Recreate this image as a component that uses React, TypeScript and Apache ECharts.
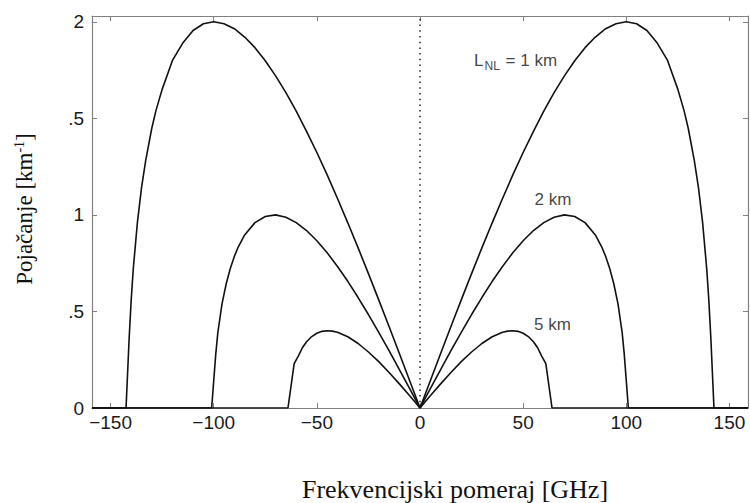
import React, { useEffect, useRef } from "react";
import * as echarts from "echarts";

// Gain curves: [frequency shift GHz, gain km^-1]
const curve1km: [number, number][] = [
  [-159, 0], [-142.5, 0], [-141, 0.36], [-140, 0.56], [-139, 0.72], [-137, 0.96], [-135, 1.14],
  [-133, 1.28], [-130, 1.45], [-128, 1.54], [-125, 1.65], [-120, 1.8], [-115, 1.89], [-110, 1.955],
  [-105, 1.99], [-100, 2.0], [-95, 1.99], [-90, 1.964], [-85, 1.921], [-80, 1.866], [-75, 1.798],
  [-70, 1.72], [-65, 1.633], [-60, 1.537], [-55, 1.433], [-50, 1.323], [-45, 1.207], [-40, 1.085],
  [-35, 0.959], [-30, 0.829], [-25, 0.696], [-20, 0.56], [-15, 0.422], [-10, 0.282], [-5, 0.141],
  [0, 0],
  [5, 0.141], [10, 0.282], [15, 0.422], [20, 0.56], [25, 0.696], [30, 0.829], [35, 0.959],
  [40, 1.085], [45, 1.207], [50, 1.323], [55, 1.433], [60, 1.537], [65, 1.633], [70, 1.72],
  [75, 1.798], [80, 1.866], [85, 1.921], [90, 1.964], [95, 1.99], [100, 2.0], [105, 1.99],
  [110, 1.955], [115, 1.89], [120, 1.8], [125, 1.65], [128, 1.54], [130, 1.45], [133, 1.28],
  [135, 1.14], [137, 0.96], [139, 0.72], [140, 0.56], [141, 0.36], [142.5, 0], [159, 0],
];
const curve2km: [number, number][] = [
  [-159, 0], [-101, 0], [-99, 0.28], [-98, 0.39], [-96, 0.538], [-94, 0.641], [-92, 0.721],
  [-90, 0.785], [-88, 0.836], [-85, 0.896], [-80, 0.96], [-75, 0.992], [-70, 1.0], [-65, 0.988],
  [-60, 0.96], [-55, 0.919], [-50, 0.866], [-45, 0.804], [-40, 0.733], [-35, 0.656], [-30, 0.572],
  [-25, 0.484], [-20, 0.392], [-15, 0.297], [-10, 0.199], [-5, 0.1], [0, 0],
  [5, 0.1], [10, 0.199], [15, 0.297], [20, 0.392], [25, 0.484], [30, 0.572], [35, 0.656],
  [40, 0.733], [45, 0.804], [50, 0.866], [55, 0.919], [60, 0.96], [65, 0.988], [70, 1.0],
  [75, 0.992], [80, 0.96], [85, 0.896], [88, 0.836], [90, 0.785], [92, 0.721], [94, 0.641],
  [96, 0.538], [98, 0.39], [99, 0.28], [101, 0], [159, 0],
];
const curve5km: [number, number][] = [
  [-159, 0], [-64, 0], [-61, 0.23], [-59, 0.269], [-57, 0.312], [-55, 0.343], [-52.5, 0.37],
  [-50, 0.387], [-47.5, 0.397], [-45, 0.4], [-42.5, 0.398], [-40, 0.392], [-35, 0.369],
  [-30, 0.334], [-25, 0.29], [-20, 0.24], [-15, 0.184], [-10, 0.125], [-5, 0.063], [0, 0],
  [5, 0.063], [10, 0.125], [15, 0.184], [20, 0.24], [25, 0.29], [30, 0.334], [35, 0.369],
  [40, 0.392], [42.5, 0.398], [45, 0.4], [47.5, 0.397], [50, 0.387], [52.5, 0.37], [55, 0.343],
  [57, 0.312], [59, 0.269], [61, 0.23], [64, 0], [159, 0],
];
const zeroLine: [number, number][] = [[0, 0], [0, 2.03]];

const xTicks = [-150, -100, -50, 0, 50, 100, 150];
const yTicks = [0, 0.5, 1, 1.5, 2];
const yTickLabels = ["0", ".5", "1", ".5", "2"];

const annotations: { pos: [number, number]; text: string }[] = [
  { pos: [26.2, 1.8], text: "{l|L}{s|NL}{l| = 1 km}" },
  { pos: [55.5, 1.078], text: "{l|2 km}" },
  { pos: [55.3, 0.435], text: "{l|5 km}" },
];

const AXIS_GRAY = "#808080";
const LINE = "#111111";
const SANS = "'Liberation Sans', Arial, sans-serif";
const SERIF = "'Liberation Serif', 'Times New Roman', serif";

export default function App() {
  const ref = useRef<HTMLDivElement>(null);
  useEffect(() => {
    if (!ref.current) return;
    const chart = echarts.init(ref.current, null, { renderer: "svg" });
    const tickStyle = { show: true, inside: true, length: 5, lineStyle: { color: AXIS_GRAY, width: 1 } };
    const curveSeries = (data: [number, number][]) => ({
      type: "line",
      data,
      showSymbol: false,
      symbol: "none",
      lineStyle: { color: LINE, width: 1.6 },
      z: 3,
    });
    chart.setOption({
      animation: false,
      backgroundColor: "#ffffff",
      grid: { left: 92, right: 2, top: 16, bottom: 95, show: false },
      xAxis: [
        {
          type: "value",
          min: -159,
          max: 159,
          position: "bottom",
          axisLine: { show: true, onZero: false, lineStyle: { color: AXIS_GRAY, width: 1.2 } },
          axisTick: { ...tickStyle, customValues: xTicks },
          axisLabel: {
            customValues: xTicks,
            formatter: (v: number) => String(v).replace("-", "\u2212"),
            color: "#1a1a1a",
            fontFamily: SANS,
            fontSize: 19,
            margin: 5,
          },
          splitLine: { show: false },
        },
        {
          type: "value",
          min: -159,
          max: 159,
          position: "top",
          axisLine: { show: true, onZero: false, lineStyle: { color: AXIS_GRAY, width: 1.2 } },
          axisTick: { ...tickStyle, customValues: xTicks },
          axisLabel: { show: false },
          splitLine: { show: false },
        },
      ],
      yAxis: [
        {
          type: "value",
          min: 0,
          max: 2.03,
          position: "left",
          axisLine: { show: true, onZero: false, lineStyle: { color: AXIS_GRAY, width: 1.2 } },
          axisTick: { ...tickStyle, customValues: yTicks },
          axisLabel: {
            customValues: yTicks,
            formatter: (v: number) => yTickLabels[yTicks.indexOf(v)] ?? "",
            color: "#1a1a1a",
            fontFamily: SANS,
            fontSize: 19,
            margin: 8,
          },
          splitLine: { show: false },
        },
        {
          type: "value",
          min: 0,
          max: 2.03,
          position: "right",
          axisLine: { show: true, onZero: false, lineStyle: { color: AXIS_GRAY, width: 1.2 } },
          axisTick: { ...tickStyle, customValues: yTicks },
          axisLabel: { show: false },
          splitLine: { show: false },
        },
      ],
      series: [
        curveSeries(curve1km),
        curveSeries(curve2km),
        curveSeries(curve5km),
        {
          type: "line",
          data: zeroLine,
          symbol: "none",
          lineStyle: { color: "#222", width: 1.5, type: [1.5, 4.2] },
          z: 2,
        },
        {
          type: "scatter",
          symbolSize: 0,
          data: annotations.map((a) => ({ value: a.pos, text: a.text })),
          label: {
            show: true,
            position: "right",
            distance: 0,
            color: "#111",
            formatter: (p: any) => p.data.text,
            rich: {
              l: { fontFamily: SANS, fontSize: 17, color: "#111" },
              s: { fontFamily: SANS, fontSize: 12, color: "#111", padding: [11, 1, 0, 1] },
            },
          },
          z: 5,
        },
      ],
      graphic: [
        {
          type: "text",
          x: 455,
          y: 489,
          style: {
            text: "Frekvencijski pomeraj [GHz]",
            font: `26px ${SERIF}`,
            fill: "#111",
            align: "center",
            verticalAlign: "middle",
          },
        },
        {
          type: "text",
          x: 24,
          y: 209,
          rotation: Math.PI / 2,
          style: {
            text: "{m|Pojačanje [km}{sup|-1}{m|]}",
            align: "center",
            verticalAlign: "middle",
            rich: {
              m: { fontFamily: SERIF, fontSize: 23, fill: "#111", color: "#111" },
              sup: { fontFamily: SERIF, fontSize: 14, fill: "#111", color: "#111", padding: [0, 0, 10, 0] },
            },
          },
        },
      ],
    });
    return () => chart.dispose();
  }, []);
  return <div ref={ref} style={{ width: 750, height: 503, position: "fixed", left: 0, top: 0 }} />;
}
